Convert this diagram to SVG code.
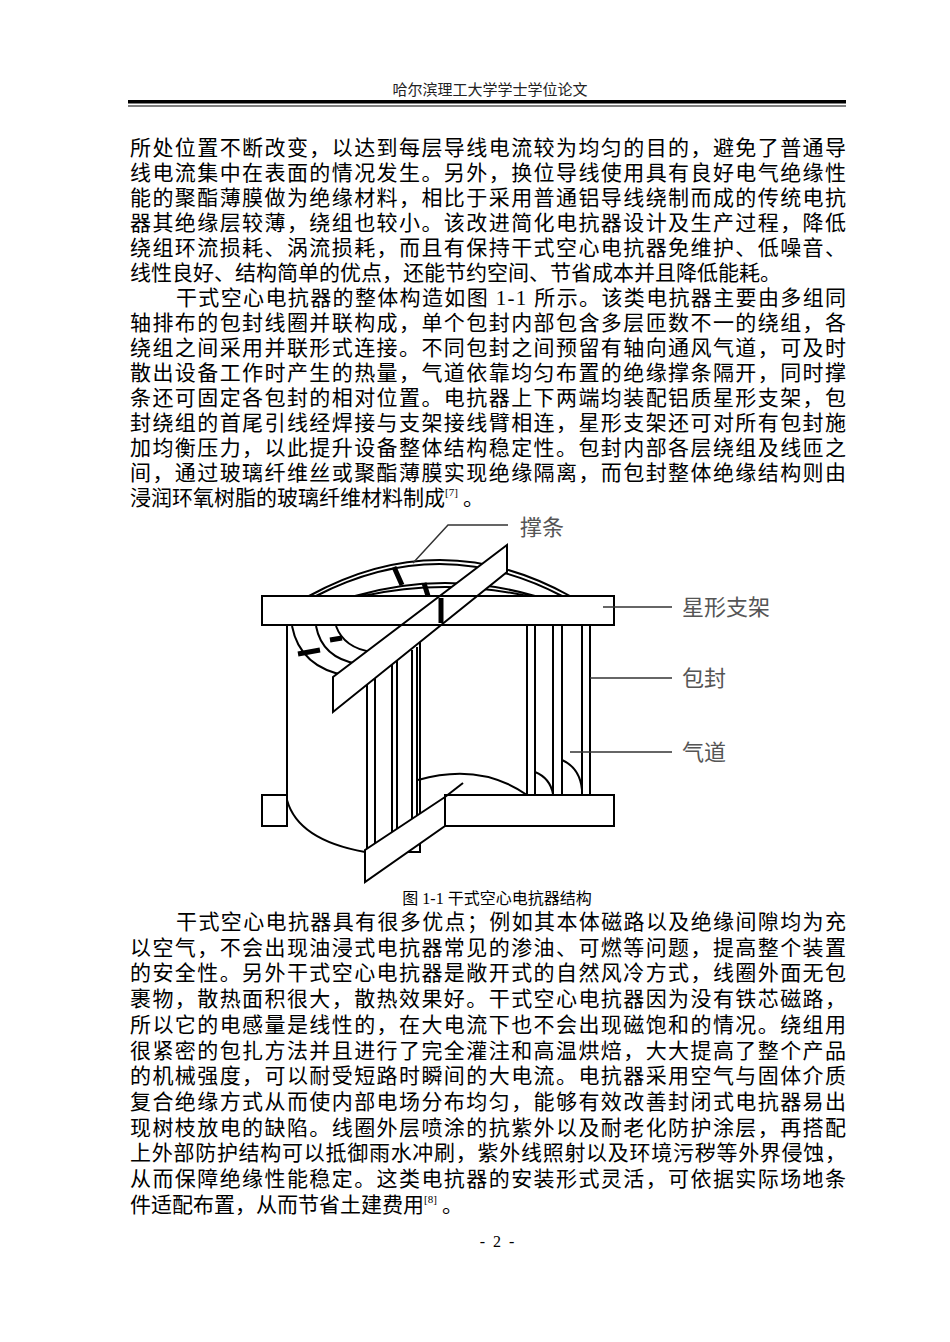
<svg xmlns="http://www.w3.org/2000/svg" width="950" height="1342" viewBox="0 0 950 1342">
<style>
.b{font-family:"Liberation Serif","Noto Sans CJK SC",serif;font-size:21px;fill:#000}
.h{font-family:"Liberation Serif","Noto Sans CJK SC",serif;font-size:15px;fill:#222}
.c{font-family:"Liberation Serif","Noto Sans CJK SC",serif;font-size:16px;fill:#000}
.l{font-family:"Noto Sans CJK SC",sans-serif;font-size:22px;fill:#555}
.s{fill:#fff;stroke:#000;stroke-width:2}
.n{fill:none;stroke:#000;stroke-width:2}
.t{fill:none;stroke:#000;stroke-width:5}
.ld{fill:none;stroke:#333;stroke-width:1.5}
</style>
<rect width="950" height="1342" fill="#fff"/>
<g id="header">
<text class="h" x="490" y="95" text-anchor="middle">哈尔滨理工大学学士学位论文</text>
<rect x="128" y="100" width="718" height="3.5" fill="#000"/>
<rect x="128" y="105.5" width="718" height="1" fill="#000"/>
</g>
<g id="para1">
<text class="b" x="130" y="155" textLength="716" lengthAdjust="spacing">所处位置不断改变，以达到每层导线电流较为均匀的目的，避免了普通导</text>
<text class="b" x="130" y="180" textLength="716" lengthAdjust="spacing">线电流集中在表面的情况发生。另外，换位导线使用具有良好电气绝缘性</text>
<text class="b" x="130" y="205" textLength="716" lengthAdjust="spacing">能的聚酯薄膜做为绝缘材料，相比于采用普通铝导线绕制而成的传统电抗</text>
<text class="b" x="130" y="230" textLength="716" lengthAdjust="spacing">器其绝缘层较薄，绕组也较小。该改进简化电抗器设计及生产过程，降低</text>
<text class="b" x="130" y="255" textLength="716" lengthAdjust="spacing">绕组环流损耗、涡流损耗，而且有保持干式空心电抗器免维护、低噪音、</text>
<text class="b" x="130" y="280">线性良好、结构简单的优点，还能节约空间、节省成本并且降低能耗。</text>
<text class="b" x="176" y="305" textLength="670" lengthAdjust="spacing">干式空心电抗器的整体构造如图 1-1 所示。该类电抗器主要由多组同</text>
<text class="b" x="130" y="330" textLength="716" lengthAdjust="spacing">轴排布的包封线圈并联构成，单个包封内部包含多层匝数不一的绕组，各</text>
<text class="b" x="130" y="355" textLength="716" lengthAdjust="spacing">绕组之间采用并联形式连接。不同包封之间预留有轴向通风气道，可及时</text>
<text class="b" x="130" y="380" textLength="716" lengthAdjust="spacing">散出设备工作时产生的热量，气道依靠均匀布置的绝缘撑条隔开，同时撑</text>
<text class="b" x="130" y="405" textLength="716" lengthAdjust="spacing">条还可固定各包封的相对位置。电抗器上下两端均装配铝质星形支架，包</text>
<text class="b" x="130" y="430" textLength="716" lengthAdjust="spacing">封绕组的首尾引线经焊接与支架接线臂相连，星形支架还可对所有包封施</text>
<text class="b" x="130" y="455" textLength="716" lengthAdjust="spacing">加均衡压力，以此提升设备整体结构稳定性。包封内部各层绕组及线匝之</text>
<text class="b" x="130" y="480" textLength="716" lengthAdjust="spacing">间，通过玻璃纤维丝或聚酯薄膜实现绝缘隔离，而包封整体绝缘结构则由</text>
<text class="b" x="130" y="505">浸润环氧树脂的玻璃纤维材料制成<tspan font-size="11" dy="-9">[7]</tspan><tspan dy="9"> 。</tspan></text>
</g>
<g id="figure">
<path class="n" d="M309,596 Q440,524 570,596 M316,596 Q440,532 562,596 M355,596 Q445,570 535,596 M363,596 Q445,578 527,596"/>
<path class="t" d="M394,567 L402,585 M424,583 L428,596"/>
<path class="s" d="M287,625 L287,800 Q298,840 365,852 L420,852 L420,625 Z"/>
<path class="n" d="M292,626 Q300,668 348,676 M316,626 Q322,658 358,664 M336,626 Q344,648 372,652"/>
<path class="t" d="M298,654 L320,650 M330,640 L342,638"/>
<path class="n" d="M367,680 L367,852 M375,674 L375,850 M392,664 L392,848 M397,660 L397,846 M412,650 L412,842 M417,647 L417,840"/>
<path class="n" d="M527,625 L527,795 M535,625 L535,795 M553,625 L553,795 M562,625 L562,795 M582,625 L582,795 M590,625 L590,795"/>
<path class="n" d="M418,780 Q480,762 527,795 M535,772 Q550,778 553,794 M562,760 Q580,768 582,790"/>
<rect class="s" x="262" y="596" width="352" height="29"/>
<polygon class="s" points="507,545 507,572 333,712 333,677"/>
<path class="n" d="M262,596 L614,596 M262,625 L614,625"/>
<path class="t" d="M441,598 L441,623"/>
<rect class="s" x="262" y="795" width="25" height="31"/>
<rect class="s" x="445" y="795" width="169" height="31"/>
<path class="n" d="M445,797 L463,783"/>
<polygon class="s" points="445,797 445,826 365,882 365,850"/>
</g>
<g id="labels">
<polyline class="ld" points="413,563 448,525 508,525"/>
<text class="l" x="520" y="535">撑条</text>
<line class="ld" x1="603" y1="607" x2="672" y2="607"/>
<text class="l" x="682" y="615">星形支架</text>
<line class="ld" x1="590" y1="678" x2="672" y2="678"/>
<text class="l" x="682" y="686">包封</text>
<line class="ld" x1="570" y1="752" x2="672" y2="752"/>
<text class="l" x="682" y="760">气道</text>
</g>
<text class="c" x="497" y="904" text-anchor="middle">图 1-1 干式空心电抗器结构</text>
<g id="para2">
<text class="b" x="176" y="929" textLength="670" lengthAdjust="spacing">干式空心电抗器具有很多优点；例如其本体磁路以及绝缘间隙均为充</text>
<text class="b" x="130" y="954.7" textLength="716" lengthAdjust="spacing">以空气，不会出现油浸式电抗器常见的渗油、可燃等问题，提高整个装置</text>
<text class="b" x="130" y="980.4" textLength="716" lengthAdjust="spacing">的安全性。另外干式空心电抗器是敞开式的自然风冷方式，线圈外面无包</text>
<text class="b" x="130" y="1006.1" textLength="716" lengthAdjust="spacing">裹物，散热面积很大，散热效果好。干式空心电抗器因为没有铁芯磁路，</text>
<text class="b" x="130" y="1031.8" textLength="716" lengthAdjust="spacing">所以它的电感量是线性的，在大电流下也不会出现磁饱和的情况。绕组用</text>
<text class="b" x="130" y="1057.5" textLength="716" lengthAdjust="spacing">很紧密的包扎方法并且进行了完全灌注和高温烘焙，大大提高了整个产品</text>
<text class="b" x="130" y="1083.2" textLength="716" lengthAdjust="spacing">的机械强度，可以耐受短路时瞬间的大电流。电抗器采用空气与固体介质</text>
<text class="b" x="130" y="1108.9" textLength="716" lengthAdjust="spacing">复合绝缘方式从而使内部电场分布均匀，能够有效改善封闭式电抗器易出</text>
<text class="b" x="130" y="1134.6" textLength="716" lengthAdjust="spacing">现树枝放电的缺陷。线圈外层喷涂的抗紫外以及耐老化防护涂层，再搭配</text>
<text class="b" x="130" y="1160.3" textLength="716" lengthAdjust="spacing">上外部防护结构可以抵御雨水冲刷，紫外线照射以及环境污秽等外界侵蚀，</text>
<text class="b" x="130" y="1186" textLength="716" lengthAdjust="spacing">从而保障绝缘性能稳定。这类电抗器的安装形式灵活，可依据实际场地条</text>
<text class="b" x="130" y="1211.7">件适配布置，从而节省土建费用<tspan font-size="11" dy="-9">[8]</tspan><tspan dy="9"> 。</tspan></text>
</g>
<text class="c" x="497" y="1247" text-anchor="middle" xml:space="preserve">-  2  -</text>
</svg>
